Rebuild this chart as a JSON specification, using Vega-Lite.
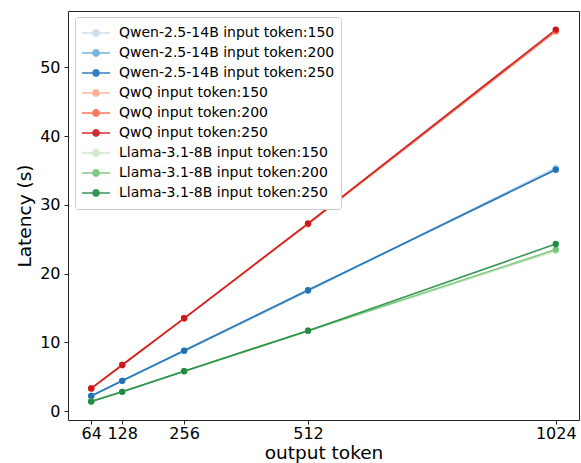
{
  "$schema": "https://vega.github.io/schema/vega-lite/v6.json",
  "width": 511,
  "height": 409,
  "autosize": {"type": "none"},
  "padding": {"left": 68, "top": 11, "right": 2, "bottom": 43},
  "background": "white",
  "config": {
    "font": "DejaVu Sans",
    "view": {"stroke": "#222", "strokeWidth": 1},
    "axis": {
      "domain": false,
      "grid": false,
      "tickColor": "#222",
      "tickSize": 4,
      "tickWidth": 1,
      "labelFont": "DejaVu Sans",
      "labelFontSize": 16,
      "labelColor": "#000",
      "titleFont": "DejaVu Sans",
      "titleFontSize": 18.5,
      "titleFontWeight": "normal",
      "titleColor": "#000"
    }
  },
  "data": {
    "values": [
      {"series": "Qwen-2.5-14B input token:150", "output": 64, "latency": 2.2},
      {"series": "Qwen-2.5-14B input token:150", "output": 128, "latency": 4.4},
      {"series": "Qwen-2.5-14B input token:150", "output": 256, "latency": 8.7},
      {"series": "Qwen-2.5-14B input token:150", "output": 512, "latency": 17.5},
      {"series": "Qwen-2.5-14B input token:150", "output": 1024, "latency": 35.4},
      {"series": "Qwen-2.5-14B input token:200", "output": 64, "latency": 2.2},
      {"series": "Qwen-2.5-14B input token:200", "output": 128, "latency": 4.4},
      {"series": "Qwen-2.5-14B input token:200", "output": 256, "latency": 8.75},
      {"series": "Qwen-2.5-14B input token:200", "output": 512, "latency": 17.5},
      {"series": "Qwen-2.5-14B input token:200", "output": 1024, "latency": 35.2},
      {"series": "Qwen-2.5-14B input token:250", "output": 64, "latency": 2.2},
      {"series": "Qwen-2.5-14B input token:250", "output": 128, "latency": 4.4},
      {"series": "Qwen-2.5-14B input token:250", "output": 256, "latency": 8.8},
      {"series": "Qwen-2.5-14B input token:250", "output": 512, "latency": 17.6},
      {"series": "Qwen-2.5-14B input token:250", "output": 1024, "latency": 35.1},
      {"series": "QwQ input token:150", "output": 64, "latency": 3.3},
      {"series": "QwQ input token:150", "output": 128, "latency": 6.7},
      {"series": "QwQ input token:150", "output": 256, "latency": 13.5},
      {"series": "QwQ input token:150", "output": 512, "latency": 27.2},
      {"series": "QwQ input token:150", "output": 1024, "latency": 55.2},
      {"series": "QwQ input token:200", "output": 64, "latency": 3.3},
      {"series": "QwQ input token:200", "output": 128, "latency": 6.7},
      {"series": "QwQ input token:200", "output": 256, "latency": 13.5},
      {"series": "QwQ input token:200", "output": 512, "latency": 27.2},
      {"series": "QwQ input token:200", "output": 1024, "latency": 55.3},
      {"series": "QwQ input token:250", "output": 64, "latency": 3.3},
      {"series": "QwQ input token:250", "output": 128, "latency": 6.7},
      {"series": "QwQ input token:250", "output": 256, "latency": 13.5},
      {"series": "QwQ input token:250", "output": 512, "latency": 27.3},
      {"series": "QwQ input token:250", "output": 1024, "latency": 55.5},
      {"series": "Llama-3.1-8B input token:150", "output": 64, "latency": 1.4},
      {"series": "Llama-3.1-8B input token:150", "output": 128, "latency": 2.8},
      {"series": "Llama-3.1-8B input token:150", "output": 256, "latency": 5.8},
      {"series": "Llama-3.1-8B input token:150", "output": 512, "latency": 11.6},
      {"series": "Llama-3.1-8B input token:150", "output": 1024, "latency": 23.3},
      {"series": "Llama-3.1-8B input token:200", "output": 64, "latency": 1.4},
      {"series": "Llama-3.1-8B input token:200", "output": 128, "latency": 2.8},
      {"series": "Llama-3.1-8B input token:200", "output": 256, "latency": 5.8},
      {"series": "Llama-3.1-8B input token:200", "output": 512, "latency": 11.7},
      {"series": "Llama-3.1-8B input token:200", "output": 1024, "latency": 23.5},
      {"series": "Llama-3.1-8B input token:250", "output": 64, "latency": 1.4},
      {"series": "Llama-3.1-8B input token:250", "output": 128, "latency": 2.8},
      {"series": "Llama-3.1-8B input token:250", "output": 256, "latency": 5.8},
      {"series": "Llama-3.1-8B input token:250", "output": 512, "latency": 11.7},
      {"series": "Llama-3.1-8B input token:250", "output": 1024, "latency": 24.3}
    ]
  },
  "mark": {
    "type": "line",
    "strokeWidth": 1.6,
    "opacity": 0.9,
    "point": {"filled": true, "size": 40, "opacity": 1}
  },
  "encoding": {
    "x": {
      "field": "output",
      "type": "quantitative",
      "title": "output token",
      "scale": {"domain": [16, 1072], "nice": false, "zero": false},
      "axis": {"values": [64, 128, 256, 512, 1024], "format": "d", "labelPadding": 1, "titlePadding": 2, "labelFlush": false}
    },
    "y": {
      "field": "latency",
      "type": "quantitative",
      "title": "Latency (s)",
      "scale": {"domain": [-1.3, 58.2], "nice": false, "zero": false},
      "axis": {"values": [0, 10, 20, 30, 40, 50], "labelPadding": 4, "titlePadding": 5}
    },
    "color": {
      "field": "series",
      "type": "nominal",
      "sort": null,
      "scale": {
        "domain": [
          "Qwen-2.5-14B input token:150",
          "Qwen-2.5-14B input token:200",
          "Qwen-2.5-14B input token:250",
          "QwQ input token:150",
          "QwQ input token:200",
          "QwQ input token:250",
          "Llama-3.1-8B input token:150",
          "Llama-3.1-8B input token:200",
          "Llama-3.1-8B input token:250"
        ],
        "range": ["#c6dbef", "#6baed6", "#2171b5", "#fcae91", "#fb6a4a", "#cb181d", "#c7e9c0", "#74c476", "#238b45"]
      },
      "legend": {
        "title": null,
        "orient": "none",
        "legendX": 7,
        "legendY": 6,
        "padding": 6,
        "fillColor": "white",
        "strokeColor": "#cccccc",
        "cornerRadius": 3,
        "labelFont": "DejaVu Sans",
        "labelFontSize": 14,
        "labelColor": "#000",
        "labelOffset": 8,
        "labelLimit": 0,
        "symbolType": "M-1,0H1M-0.22,0a0.22,0.22 0 1,0 0.44,0a0.22,0.22 0 1,0 -0.44,0",
        "symbolSize": 784,
        "symbolStrokeWidth": 1.6,
        "symbolOpacity": 0.9,
        "clipHeight": 20,
        "rowPadding": 0,
        "encode": {
          "symbols": {"update": {"fill": {"scale": "color", "field": "value"}, "fillOpacity": {"value": 1}}}
        }
      }
    }
  }
}
